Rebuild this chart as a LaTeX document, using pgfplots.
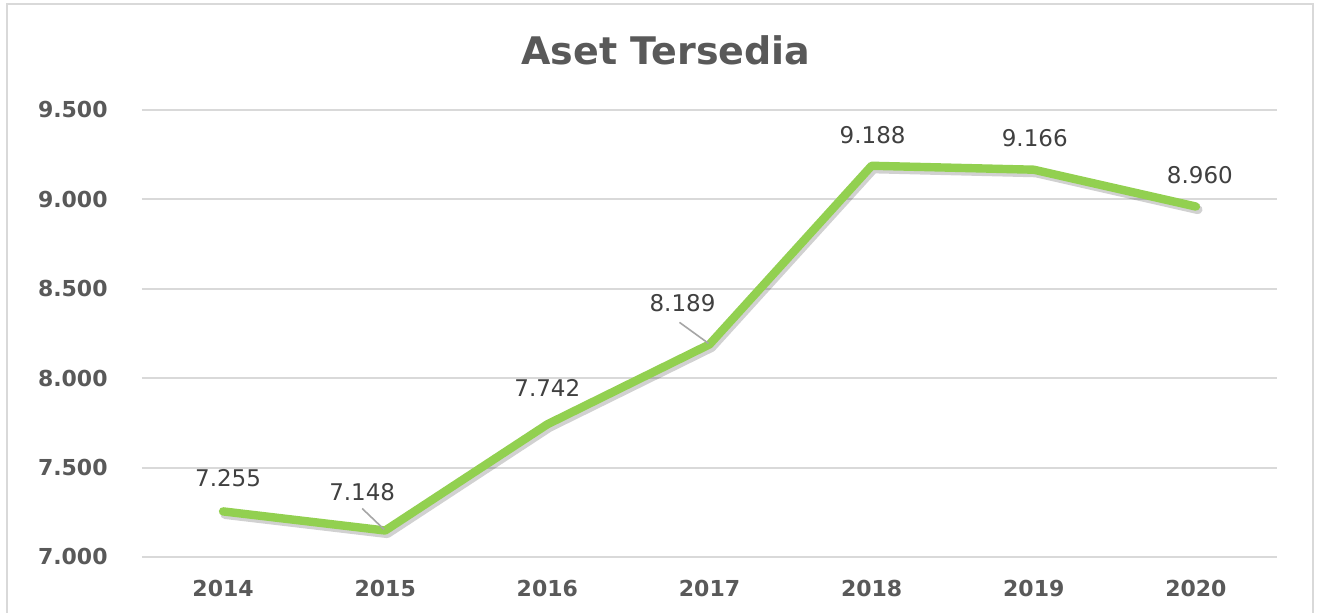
\documentclass[border=0pt]{standalone}
\usepackage{pgfplots}
\pgfplotsset{compat=1.18}
\usepackage{pgfplotstable}
\usepackage{fontspec}
\setmainfont{DejaVu Sans}
\definecolor{linegreen}{HTML}{92D050}
\definecolor{gridgray}{HTML}{D9D9D9}
\definecolor{ticktext}{HTML}{595959}
\definecolor{labeltext}{HTML}{404040}
\definecolor{leader}{HTML}{A6A6A6}

\pgfplotstableread{
x y lab dx dy
0 7255 7.255 2.5 16.5
1 7148 7.148 -11.5 19.25
2 7742 7.742 0 18
3 8189 8.189 -13.5 20.5
4 9188 9.188 0.5 15.5
5 9166 9.166 0.5 16
6 8960 8.960 2 15.75
}\asetdata

\begin{document}
\begin{tikzpicture}
\path[use as bounding box, clip] (0,0) rectangle (659.5pt,306.5pt);
\fill[white] (0,0) rectangle (659.5pt,306.5pt);
\draw[gridgray, line width=1.2pt] (3.5pt,-5pt) -- (3.5pt,304.5pt) -- (656.5pt,304.5pt) -- (656.5pt,-5pt);
\node[anchor=base, text=ticktext, font=\bfseries\fontsize{19}{22}\selectfont] at (333pt,274pt) {Aset Tersedia};
\begin{axis}[
  at={(71pt,28pt)}, anchor=south west,
  scale only axis, width=567.5pt, height=223.5pt,
  xmin=-0.5, xmax=6.5, ymin=7000, ymax=9500,
  axis line style={draw=none},
  ymajorgrids, major grid style={gridgray, line width=1pt},
  xtick=data, xticklabels={2014,2015,2016,2017,2018,2019,2020},
  ytick={7000,7500,8000,8500,9000,9500},
  yticklabels={7.000,7.500,8.000,8.500,9.000,9.500},
  tick style={draw=none},
  xticklabel style={anchor=north, inner sep=0pt, yshift=-11.5pt, text=ticktext, font=\bfseries\fontsize{11}{13}\selectfont},
  yticklabel style={anchor=east, inner sep=0pt, xshift=-17pt, text=ticktext, font=\bfseries\fontsize{11}{13}\selectfont},
  clip=false,
]
\addplot[black, opacity=0.18, line width=4.6pt, line join=round, line cap=round, xshift=1pt, yshift=-1.5pt] table[x=x,y=y] {\asetdata};
\addplot[linegreen, line width=4.2pt, line join=round, line cap=round,
  nodes near coords, point meta=explicit symbolic,
  visualization depends on={\thisrow{dx} \as \dx},
  visualization depends on={\thisrow{dy} \as \dy},
  every node near coord/.append style={anchor=center, xshift=\dx pt, yshift=\dy pt, text=labeltext, font=\fontsize{11.5}{13}\selectfont, inner sep=0pt},
] table[x=x,y=y,meta=lab] {\asetdata};
\draw[leader, line width=0.8pt] ([xshift=-11.5pt,yshift=11pt]axis cs:1,7148) -- ([xshift=-0.5pt,yshift=0.5pt]axis cs:1,7148);
\draw[leader, line width=0.8pt] ([xshift=-15pt,yshift=11pt]axis cs:3,8189) -- ([xshift=-0.5pt,yshift=0.5pt]axis cs:3,8189);
\end{axis}
\end{tikzpicture}
\end{document}
